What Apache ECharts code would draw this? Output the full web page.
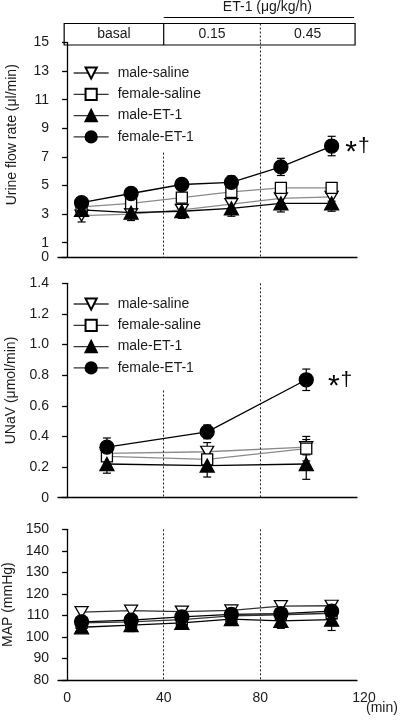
<!DOCTYPE html>
<html>
<head>
<meta charset="utf-8">
<script src="https://cdn.jsdelivr.net/npm/echarts@6/dist/echarts.min.js"></script>
<style>
html,body{margin:0;padding:0;background:#fff;}
#chart{width:400px;height:721px;}
</style>
</head>
<body>
<div id="chart"></div>
<script>
// ---- data ----
const seriesNames = ['male-saline', 'female-saline', 'male-ET-1', 'female-ET-1'];
const timesA = [6, 26.5, 47.5, 68, 88.5, 109.5];   // min (urine flow, MAP)
const timesB = [16.5, 58, 99];                    // min (UNaV)

const flowMaleSaline   = [2.9, 3.0, 3.3, 3.7, 4.1, 4.2];
const flowFemaleSaline = [3.5, 3.75, 4.15, 4.55, 4.83, 4.83];
const flowMaleET1      = [3.3, 3.1, 3.2, 3.4, 3.75, 3.75];
const flowFemaleET1    = [3.8, 4.44, 5.07, 5.22, 6.3, 7.76];
const flowMaleSalineErr   = [0.45, 0.3, 0.3, 0.3, 0.3, 0.3];
const flowFemaleSalineErr = [0.25, 0.3, 0.3, 0.3, 0.3, 0.3];
const flowMaleET1Err      = [0.35, 0.55, 0.5, 0.55, 0.6, 0.55];
const flowFemaleET1Err    = [0.25, 0.3, 0.35, 0.45, 0.6, 0.68];

const unavMaleSaline   = [0.29, 0.30, 0.33];
const unavFemaleSaline = [0.27, 0.25, 0.32];
const unavMaleET1      = [0.22, 0.21, 0.22];
const unavFemaleET1    = [0.33, 0.43, 0.77];
const unavMaleSalineErr   = [0.03, 0.06, 0.05];
const unavFemaleSalineErr = [0.03, 0.04, 0.08];
const unavMaleET1Err      = [0.06, 0.075, 0.1];
const unavFemaleET1Err    = [0.06, 0.045, 0.07];

const mapMaleSaline   = [111.5, 112.2, 111.8, 112.3, 114.3, 114.5];
const mapFemaleSaline = [106.5, 107, 108, 109.8, 110.3, 111];
const mapMaleET1      = [104.5, 105.5, 106.5, 108.3, 107.5, 108];
const mapFemaleET1    = [107, 107.8, 109.3, 110.5, 110.8, 112];
const mapMaleSalineErr   = [1.5, 1.5, 1.5, 1.5, 1.5, 1.5];
const mapFemaleSalineErr = [2, 2, 2, 2, 2.5, 2.5];
const mapMaleET1Err      = [1.5, 3, 2, 2, 3.5, 5];
const mapFemaleET1Err    = [2, 2, 2, 2, 2.5, 2.5];

const flowTicks = [0, 1, 3, 5, 7, 9, 11, 13, 15];
const timeTicks = [0, 40, 80, 120];
const phaseBoundaries = [40, 80];
const headerLabels = ['basal', '0.15', '0.45'];
const headerTitle = 'ET-1 (μg/kg/h)';
const timeUnit = '(min)';

// ---- chart ----
const FONT = '"Liberation Sans", Arial, sans-serif';
const TXT = '#1a1a1a';
const chart = echarts.init(document.getElementById('chart'), null, {renderer: 'canvas'});

const grids = [
  {left: 58, width: 299, top: 42.5, height: 214.5, outerBoundsMode: 'none', containLabel: false},
  {left: 58, width: 299, top: 283.3, height: 214.4, outerBoundsMode: 'none', containLabel: false},
  {left: 58, width: 299, top: 529.3, height: 150.7, outerBoundsMode: 'none', containLabel: false}
];

function xAxisDef(i) {
  const last = i === 2;
  return {
    type: 'value', gridIndex: i, min: -3.75, max: 120,
    axisLine: {show: true, onZero: false, lineStyle: {color: '#000', width: 1.3}},
    axisTick: {show: false},
    splitLine: {show: false},
    axisLabel: last ? {
      show: true, customValues: timeTicks, margin: 11,
      fontSize: 14, color: TXT, fontFamily: FONT,
      formatter: v => v === 120 ? '{s|120}' : String(v),
      rich: {s: {fontSize: 14, color: TXT, fontFamily: FONT, padding: [0, 0, 0, 14]}}
    } : {show: false}
  };
}

function yAxisDef(i, opts) {
  return Object.assign({
    type: 'value', gridIndex: i, offset: 6,
    axisLine: {show: true, lineStyle: {color: '#000', width: 1.3}},
    axisTick: {show: true, length: 5, lineStyle: {color: '#000', width: 1.3}},
    splitLine: {show: false},
    nameLocation: 'middle', nameGap: 33,
    nameTextStyle: {fontSize: 14, color: TXT, fontFamily: FONT}
  }, opts);
}

const yAxes = [
  yAxisDef(0, {min: 0, max: 15, name: 'Urine flow rate (μl/min)',
    nameTextStyle: {fontSize: 14, color: TXT, fontFamily: FONT, padding: [0, 0, 0, 30]},
    axisLabel: {customValues: flowTicks, fontSize: 14, color: TXT, fontFamily: FONT, margin: 3},
    axisTick: {show: true, length: 5, customValues: flowTicks, lineStyle: {color: '#000', width: 1.3}}}),
  yAxisDef(1, {min: 0, max: 1.4, interval: 0.2, name: 'UNaV (μmol/min)',
    axisLabel: {fontSize: 14, color: TXT, fontFamily: FONT, margin: 3,
      formatter: v => v === 0 ? '0' : v.toFixed(1)}}),
  yAxisDef(2, {min: 80, max: 150, interval: 10, name: 'MAP (mmHg)',
    axisLabel: {fontSize: 14, color: TXT, fontFamily: FONT, margin: 3}})
];

const styles = {
  'male-saline':   {symbol: 'triangle', symbolRotate: 180, symbolSize: [13, 11], fill: '#fff', line: '#8a8a8a'},
  'female-saline': {symbol: 'rect', symbolRotate: 0, symbolSize: 11, fill: '#fff', line: '#8a8a8a'},
  'male-ET-1':     {symbol: 'triangle', symbolRotate: 0, symbolSize: [14, 13], fill: '#000', line: '#000'},
  'female-ET-1':   {symbol: 'circle', symbolRotate: 0, symbolSize: 14, fill: '#000', line: '#000'}
};

function lineSeries(name, grid, xs, ys, lineColor, markIdx, markDist, withMarkLine, mlTop, mlTop80) {
  const st = styles[name];
  const data = xs.map((x, i) => {
    if (i === markIdx) {
      return {value: [x, ys[i]], label: {show: true, position: 'right', distance: markDist,
        formatter: '{a|*}{b|†}',
        rich: {a: {fontSize: 30, color: '#000', fontFamily: FONT, padding: [14, 1, 0, 0]},
               b: {fontSize: 21, color: '#000', fontFamily: FONT}}}};
    }
    return [x, ys[i]];
  });
  const s = {
    type: 'line', name: name, xAxisIndex: grid, yAxisIndex: grid, data: data,
    symbol: st.symbol, symbolRotate: st.symbolRotate, symbolSize: st.symbolSize,
    showSymbol: true, z: 3,
    lineStyle: {color: lineColor || st.line, width: 1.3},
    itemStyle: {color: st.fill, borderColor: '#000', borderWidth: 1.3},
    emphasis: {disabled: true}, animation: false
  };
  if (withMarkLine) {
    const base = grid === 2 ? 80 : 0;
    s.markLine = {
      silent: true, symbol: 'none', animation: false,
      label: {show: false},
      lineStyle: {color: '#222', width: 1, type: [2, 2]},
      data: [
        [{coord: [phaseBoundaries[0], mlTop]}, {coord: [phaseBoundaries[0], base]}],
        [{coord: [phaseBoundaries[1], mlTop80]}, {coord: [phaseBoundaries[1], base]}]
      ]
    };
  }
  return s;
}

function errSeries(grid, xs, ys, es) {
  return {
    type: 'custom', xAxisIndex: grid, yAxisIndex: grid, z: 2, silent: true, animation: false,
    data: xs.map((x, i) => [x, ys[i] - es[i], ys[i] + es[i]]),
    encode: {x: 0, y: [1, 2]},
    renderItem: function (params, api) {
      const x = api.value(0);
      const lo = api.coord([x, api.value(1)]);
      const hi = api.coord([x, api.value(2)]);
      const w = 4;
      const st = {stroke: '#000', lineWidth: 1.2};
      return {type: 'group', children: [
        {type: 'line', shape: {x1: lo[0], y1: lo[1], x2: hi[0], y2: hi[1]}, style: st},
        {type: 'line', shape: {x1: lo[0] - w, y1: lo[1], x2: lo[0] + w, y2: lo[1]}, style: st},
        {type: 'line', shape: {x1: hi[0] - w, y1: hi[1], x2: hi[0] + w, y2: hi[1]}, style: st}
      ]};
    }
  };
}

const series = [
  errSeries(0, timesA, flowMaleSaline, flowMaleSalineErr),
  errSeries(0, timesA, flowFemaleSaline, flowFemaleSalineErr),
  errSeries(0, timesA, flowMaleET1, flowMaleET1Err),
  errSeries(0, timesA, flowFemaleET1, flowFemaleET1Err),
  lineSeries('male-saline', 0, timesA, flowMaleSaline, null, -1, 0, true, 7.3, 15),
  lineSeries('female-saline', 0, timesA, flowFemaleSaline, null, -1, 0),
  lineSeries('male-ET-1', 0, timesA, flowMaleET1, null, -1, 0),
  lineSeries('female-ET-1', 0, timesA, flowFemaleET1, null, 5, 6),
  errSeries(1, timesB, unavMaleSaline, unavMaleSalineErr),
  errSeries(1, timesB, unavFemaleSaline, unavFemaleSalineErr),
  errSeries(1, timesB, unavMaleET1, unavMaleET1Err),
  errSeries(1, timesB, unavFemaleET1, unavFemaleET1Err),
  lineSeries('male-saline', 1, timesB, unavMaleSaline, null, -1, 0, true, 0.70, 1.4),
  lineSeries('female-saline', 1, timesB, unavFemaleSaline, null, -1, 0),
  lineSeries('male-ET-1', 1, timesB, unavMaleET1, null, -1, 0),
  lineSeries('female-ET-1', 1, timesB, unavFemaleET1, null, 2, 14),
  errSeries(2, timesA, mapMaleSaline, mapMaleSalineErr),
  errSeries(2, timesA, mapFemaleSaline, mapFemaleSalineErr),
  errSeries(2, timesA, mapMaleET1, mapMaleET1Err),
  errSeries(2, timesA, mapFemaleET1, mapFemaleET1Err),
  lineSeries('male-saline', 2, timesA, mapMaleSaline, '#333', -1, 0, true, 150, 150),
  lineSeries('female-saline', 2, timesA, mapFemaleSaline, '#333', -1, 0),
  lineSeries('male-ET-1', 2, timesA, mapMaleET1, null, -1, 0),
  lineSeries('female-ET-1', 2, timesA, mapFemaleET1, null, -1, 0)
];

function legendDef(top) {
  return {
    orient: 'vertical', left: 68, top: top, itemWidth: 35, itemHeight: 14, itemGap: 7.3,
    selectedMode: false, data: seriesNames,
    lineStyle: {color: '#333', width: 1.3},
    textStyle: {fontSize: 14, color: TXT, fontFamily: FONT, padding: [0, 0, 0, 4]}
  };
}

chart.setOption({
  animation: false,
  backgroundColor: '#fff',
  grid: grids,
  xAxis: [xAxisDef(0), xAxisDef(1), xAxisDef(2)],
  yAxis: yAxes,
  legend: [legendDef(61), legendDef(292)],
  series: series
});

// header (dose annotation) and time unit positioned from the axes
const px = v => chart.convertToPixel({xAxisIndex: 0}, v);
const x40 = px(phaseBoundaries[0]);
const x80 = px(phaseBoundaries[1]);
const xL = px(-1.2), xR = px(119.2);
const yBase3 = chart.convertToPixel({yAxisIndex: 2}, 80);
const boxTop = 23.5, boxBot = 45;
chart.setOption({
  graphic: [
    {type: 'text', x: (px(40) + px(120)) / 2 + 7, y: 7, style: {text: headerTitle, font: '14px ' + FONT, fill: TXT, align: 'center', verticalAlign: 'middle'}},
    {type: 'line', shape: {x1: x40, y1: 17.5, x2: xR - 1, y2: 17.5}, style: {stroke: '#000', lineWidth: 1.2}},
    {type: 'rect', shape: {x: xL, y: boxTop, width: xR - xL, height: boxBot - boxTop}, style: {stroke: '#000', fill: 'none', lineWidth: 1.2}},
    {type: 'line', shape: {x1: x40, y1: boxTop, x2: x40, y2: boxBot}, style: {stroke: '#000', lineWidth: 1.2}},
    {type: 'line', shape: {x1: x80, y1: boxTop, x2: x80, y2: 42.5}, style: {stroke: '#222', lineWidth: 1, lineDash: [2, 2]}},
    {type: 'text', x: (xL + x40) / 2, y: 34.5, style: {text: headerLabels[0], font: '14px ' + FONT, fill: TXT, align: 'center', verticalAlign: 'middle'}},
    {type: 'text', x: (x40 + x80) / 2, y: 34.5, style: {text: headerLabels[1], font: '14px ' + FONT, fill: TXT, align: 'center', verticalAlign: 'middle'}},
    {type: 'text', x: (x80 + xR) / 2, y: 34.5, style: {text: headerLabels[2], font: '14px ' + FONT, fill: TXT, align: 'center', verticalAlign: 'middle'}},
    {type: 'text', x: px(120) + 9, y: yBase3 + 28, style: {text: timeUnit, font: '14px ' + FONT, fill: TXT, align: 'left', verticalAlign: 'middle'}}
  ]
});
</script>
</body>
</html>
